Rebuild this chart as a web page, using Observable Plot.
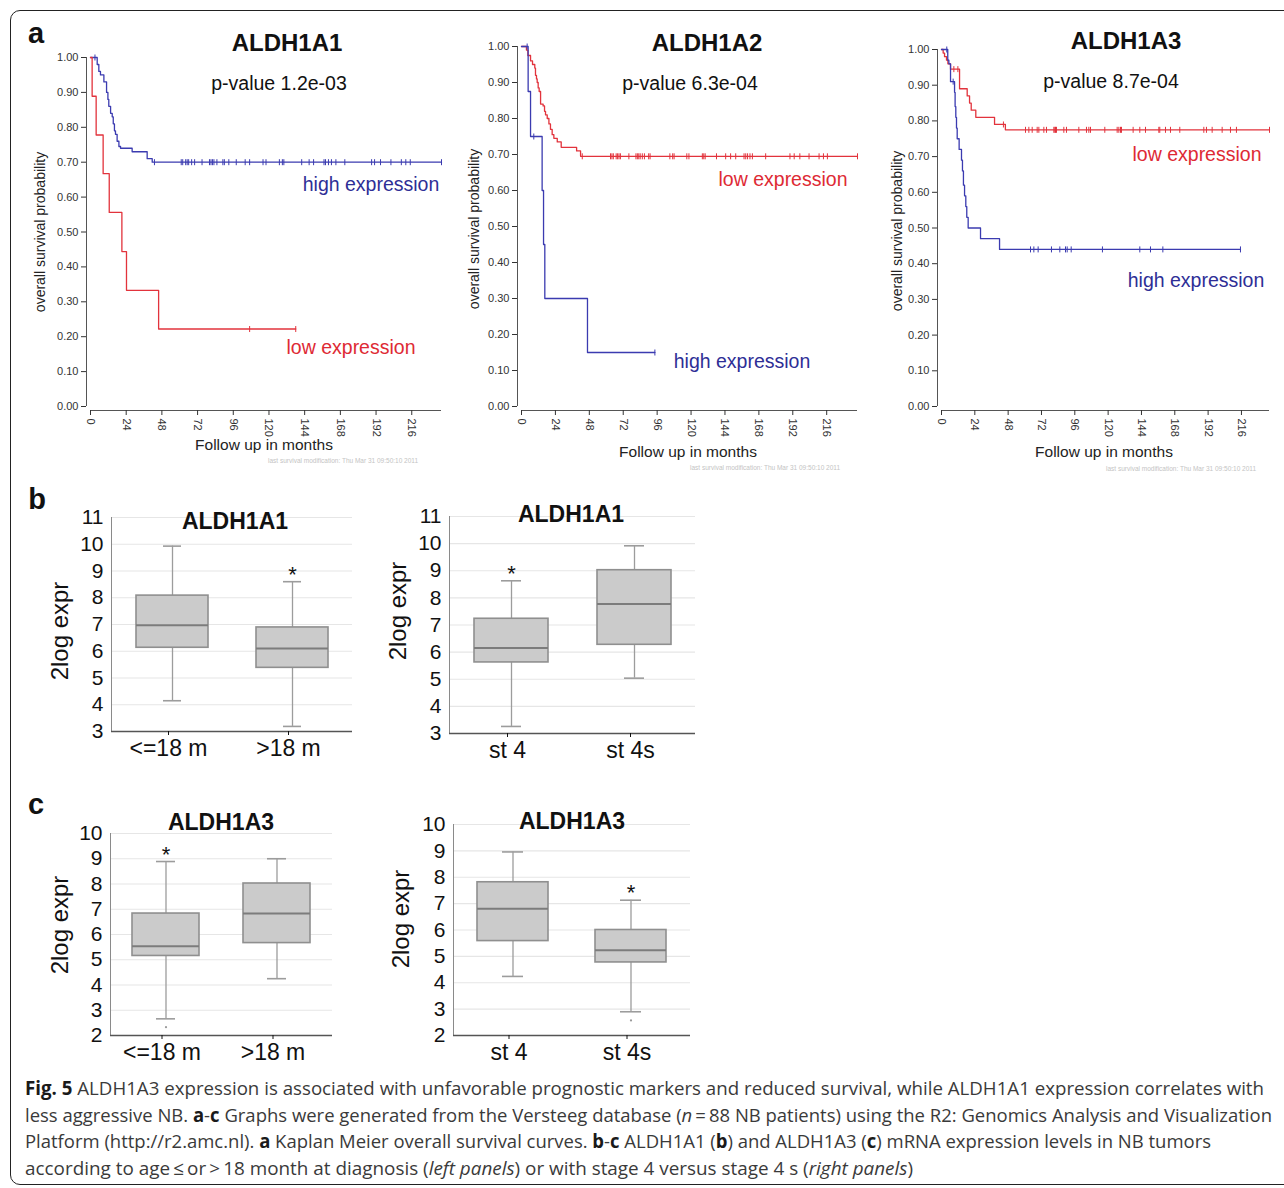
<!DOCTYPE html>
<html>
<head>
<meta charset="utf-8">
<script src="https://cdn.jsdelivr.net/npm/d3@7"></script>
<script src="https://cdn.jsdelivr.net/npm/@observablehq/plot@0.6"></script>
<style>
  html, body { margin: 0; padding: 0; background: #fff; }
  body { width: 1284px; height: 1188px; overflow: hidden; position: relative; font-family: "Liberation Sans", Arial, sans-serif; color: #111; }
  #border { position: absolute; left: 10px; top: 10px; width: 1300px; height: 1175px; border: 1.6px solid #222; border-radius: 10px; box-sizing: border-box; }
  .t { position: absolute; white-space: nowrap; line-height: 1; transform: translate(-50%, -50%); }
  .plotbox { position: absolute; }
  .cap { position: absolute; left: 25px; white-space: nowrap; line-height: 1; font-family: "Open Sans", "Noto Sans", sans-serif; font-size: 19px; color: #3a3a3a; transform-origin: 0 50%; }
  .cap b { color: #1a1a1a; }
  .foot { position: absolute; white-space: nowrap; font-size: 6.5px; color: #c4c4c4; line-height: 1; }
</style>
</head>
<body>
<div id="border"></div>
<script>
// ---------------- DATA ----------------
const kmMonthTicks = [0, 24, 48, 72, 96, 120, 144, 168, 192, 216];
const kmProbTicks = [0, 0.1, 0.2, 0.3, 0.4, 0.5, 0.6, 0.7, 0.8, 0.9, 1.0];

// Panel a, ALDH1A1
const a1HighTime = [0, 4.5, 5.6, 6.7, 9.0, 10.8, 11.7, 12.3, 13.5, 14.6, 15.3, 16.1, 16.8, 17.9, 19.1, 20.2, 28.0, 38.1, 41.5, 236];
const a1HighSurv = [1, 0.98, 0.96, 0.95, 0.93, 0.90, 0.88, 0.86, 0.84, 0.83, 0.81, 0.79, 0.78, 0.76, 0.745, 0.74, 0.73, 0.71, 0.70, 0.70];
const a1HighCensor = [3, 43, 61, 62, 64, 65, 66, 68, 70, 75, 80, 81, 82, 83, 85, 89, 90, 93, 98, 104, 107, 116, 118, 127, 129, 130, 142, 147, 150, 157, 158, 160, 162, 165, 171, 189, 191, 195, 202, 209, 212, 215, 236];
const a1LowTime = [0, 1.1, 3.8, 8.5, 12.6, 21.1, 24.2, 45.8, 138];
const a1LowSurv = [1, 0.889, 0.778, 0.667, 0.556, 0.444, 0.333, 0.222, 0.222];
const a1LowCensor = [107, 138];

// Panel a, ALDH1A2
const a2HighTime = [0, 4.7, 6.4, 14.6, 15.6, 16.5, 46.7, 94.4];
const a2HighSurv = [1, 0.875, 0.75, 0.6, 0.45, 0.3, 0.15, 0.15];
const a2HighCensor = [4.0, 8.7, 94.4];
const a2LowTime = [0, 3.5, 4.5, 6.4, 7.8, 9.4, 9.9, 10.6, 11.1, 11.8, 12.5, 13.5, 15.3, 16.3, 17.0, 18.2, 19.4, 20.5, 21.7, 22.9, 25.3, 28.1, 39.0, 41.8, 237.8];
const a2LowSurv = [1, 0.99, 0.975, 0.96, 0.95, 0.94, 0.92, 0.91, 0.90, 0.885, 0.875, 0.84, 0.835, 0.82, 0.81, 0.80, 0.785, 0.77, 0.755, 0.745, 0.735, 0.72, 0.71, 0.695, 0.695];
const a2LowCensor = [43, 63, 64, 65, 67, 68, 69, 70, 76, 81, 82, 83, 84, 85.5, 87, 90, 91, 105, 107, 108, 117, 118.5, 128, 129, 130, 138, 144.5, 148, 151.6, 157.5, 158.7, 160, 161.7, 163.4, 172.8, 190, 193, 197, 203.5, 210.6, 213.7, 216.5, 237.8];

// Panel a, ALDH1A3
const a3LowTime = [0, 1.2, 2.2, 3.6, 4.6, 6.5, 13.0, 18.5, 20.2, 21.4, 24.7, 38.2, 46.0, 236.2];
const a3LowSurv = [1, 0.99, 0.98, 0.97, 0.96, 0.945, 0.89, 0.87, 0.85, 0.83, 0.81, 0.79, 0.775, 0.775];
const a3LowCensor = [8.9, 11.8, 44.6, 60.5, 62.9, 65.3, 68.9, 70.1, 73.7, 75.6, 80.9, 81.6, 82.1, 82.8, 88.1, 90, 98.9, 104.4, 106.1, 107.3, 117.6, 126.5, 127.7, 128.9, 129.6, 138, 142.8, 146.9, 156.5, 157.2, 161.3, 164.9, 171.6, 188.9, 190.8, 194.9, 202.1, 208.1, 212.4, 236.2];
const a3HighTime = [0, 4.5, 5.3, 6.5, 9.4, 9.8, 10.3, 10.8, 11.3, 12.7, 14.4, 15.1, 15.8, 16.6, 17.5, 18.2, 19.2, 28.1, 41.8, 215.3];
const a3HighSurv = [1, 0.97, 0.96, 0.91, 0.88, 0.84, 0.81, 0.78, 0.75, 0.72, 0.69, 0.66, 0.62, 0.59, 0.56, 0.53, 0.50, 0.47, 0.44, 0.44];
const a3HighCensor = [3.8, 8.4, 64.1, 66.5, 69.6, 79.2, 85.2, 89.3, 90.5, 93.4, 115.9, 142.8, 150.5, 159.4, 215.3];

// Panel b, ALDH1A1 box plots
const b1Groups = ["<=18 m", ">18 m"];
const b1Low = [4.15, 3.19];
const b1Q1 = [6.13, 5.38];
const b1Median = [6.97, 6.10];
const b1Q3 = [8.08, 6.89];
const b1High = [9.93, 8.60];
const b1Stars = [">18 m"];

const b2Groups = ["st 4", "st 4s"];
const b2Low = [3.26, 5.04];
const b2Q1 = [5.62, 6.27];
const b2Median = [6.15, 7.77];
const b2Q3 = [7.23, 9.02];
const b2High = [8.63, 9.92];
const b2Stars = ["st 4"];

const bTicks = [3, 4, 5, 6, 7, 8, 9, 10, 11];

// Panel c, ALDH1A3 box plots
const c1Groups = ["<=18 m", ">18 m"];
const c1Low = [2.66, 4.25];
const c1Q1 = [5.15, 5.66];
const c1Median = [5.53, 6.83];
const c1Q3 = [6.83, 8.02];
const c1High = [8.89, 9.00];
const c1Stars = ["<=18 m"];
const c1OutGroups = ["<=18 m"];
const c1OutValues = [2.33];

const c2Groups = ["st 4", "st 4s"];
const c2Low = [4.24, 2.90];
const c2Q1 = [5.58, 4.77];
const c2Median = [6.81, 5.23];
const c2Q3 = [7.81, 6.00];
const c2High = [8.96, 7.13];
const c2Stars = ["st 4s"];
const c2OutGroups = ["st 4s"];
const c2OutValues = [2.57];

const cTicks = [2, 3, 4, 5, 6, 7, 8, 9, 10];

const BLUE = "#3b3bb0";
const RED = "#e2333c";
const BLUE_TXT = "#2e2e96";
const RED_TXT = "#de2a34";

// ---------------- HELPERS ----------------
function stepAt(time, surv, t) {
  let v = surv[0];
  for (let i = 0; i < time.length; i++) if (time[i] <= t) v = surv[i];
  return v;
}
const vTick = {
  draw(ctx, size) {
    const r = Math.sqrt(size / Math.PI);
    ctx.moveTo(0, -r);
    ctx.lineTo(0, r);
  }
};
function place(el, left, top) {
  const wrap = document.createElement("div");
  wrap.className = "plotbox";
  wrap.style.left = left + "px";
  wrap.style.top = top + "px";
  wrap.appendChild(el);
  document.body.appendChild(wrap);
}
function txt(text, x, y, style = {}, rotate = false) {
  const d = document.createElement("div");
  d.className = "t";
  d.textContent = text;
  d.style.left = x + "px";
  d.style.top = y + "px";
  Object.assign(d.style, style);
  if (rotate) d.style.transform = "translate(-50%, -50%) rotate(-90deg)";
  document.body.appendChild(d);
}

function kmPlot(cfg) {
  const marks = [
    Plot.ruleX([0], {y1: 0, y2: 1, dx: -4, stroke: "#555", strokeWidth: 1}),
    Plot.ruleY([0], {x1: 0, x2: cfg.xMax, dy: 4, stroke: "#555", strokeWidth: 1}),
    Plot.axisY(kmProbTicks, {tickFormat: d3.format(".2f"), tickSize: 5, tickPadding: 3, label: null, fontSize: 11}),
    Plot.axisX(kmMonthTicks, {tickRotate: 90, tickSize: 5, tickPadding: 3, label: null, fontSize: 11})
  ];
  for (const c of cfg.curves) {
    const pts = c.time.map((t, i) => ({t, s: c.surv[i]}));
    marks.push(Plot.line(pts, {x: "t", y: "s", curve: "step-after", stroke: c.color, strokeWidth: 1.3}));
    const cens = c.censor.map(t => ({t, s: stepAt(c.time, c.surv, t)}));
    marks.push(Plot.dot(cens, {x: "t", y: "s", symbol: vTick, r: 3, stroke: c.color, fill: "none", strokeWidth: 1}));
  }
  return Plot.plot({
    width: cfg.width, height: cfg.height,
    marginLeft: cfg.mL, marginRight: cfg.mR, marginTop: cfg.mT, marginBottom: cfg.mB,
    x: {domain: [0, cfg.xMax], insetLeft: 4, label: null},
    y: {domain: [0, 1], insetBottom: 4, label: null},
    style: {fontFamily: "'Liberation Sans', Arial, sans-serif", fontSize: "11px", color: "#333", background: "transparent", overflow: "visible"},
    marks
  });
}

function boxPlot(cfg) {
  const rows = cfg.groups.map((g, i) => ({g, low: cfg.low[i], q1: cfg.q1[i], med: cfg.med[i], q3: cfg.q3[i], high: cfg.high[i]}));
  const starRows = rows.filter(r => cfg.stars.includes(r.g));
  const outRows = (cfg.outGroups || []).map((g, i) => ({g, v: cfg.outValues[i]}));
  const W = "#9c9c9c";
  return Plot.plot({
    width: cfg.width, height: cfg.height,
    marginLeft: cfg.mL, marginRight: cfg.mR, marginTop: cfg.mT, marginBottom: cfg.mB,
    x: {domain: cfg.groups, paddingInner: 0.4, paddingOuter: 0.2, label: null},
    y: {domain: [cfg.yTicks[0], cfg.yTicks[cfg.yTicks.length - 1]], label: null},
    style: {fontFamily: "'Liberation Sans', Arial, sans-serif", fontSize: "21px", color: "#111", background: "transparent", overflow: "visible"},
    marks: [
      Plot.ruleY(cfg.yTicks, {stroke: "#e6e6e6", strokeWidth: 1.2}),
      Plot.ruleX(rows, {x: "g", y1: "low", y2: "q1", stroke: W, strokeWidth: 1.3}),
      Plot.ruleX(rows, {x: "g", y1: "q3", y2: "high", stroke: W, strokeWidth: 1.3}),
      Plot.tickY(rows, {x: "g", y: "low", stroke: W, strokeWidth: 1.6, inset: cfg.capInset}),
      Plot.tickY(rows, {x: "g", y: "high", stroke: W, strokeWidth: 1.6, inset: cfg.capInset}),
      Plot.barY(rows, {x: "g", y1: "q1", y2: "q3", fill: "#cbcbcb", stroke: "#8f8f8f", strokeWidth: 1.6}),
      Plot.tickY(rows, {x: "g", y: "med", stroke: "#7c7c7c", strokeWidth: 2}),
      Plot.dot(outRows, {x: "g", y: "v", r: 1.1, fill: "#999", stroke: null}),
      Plot.text(starRows, {x: "g", y: "high", text: () => "*", dy: -7, fontSize: 22, fill: "#111"}),
      Plot.frame({anchor: "left", stroke: "#8a8a8a"}),
      Plot.ruleY([cfg.yTicks[0]], {stroke: "#555", strokeWidth: 1.6}),
      Plot.axisY(cfg.yTicks, {tickSize: 0, tickPadding: 8, fontSize: 21, label: null}),
      Plot.axisX({tickSize: 4, tickPadding: 4, fontSize: 23, label: null, dx: -4})
    ]
  });
}

// ---------------- PANEL a ----------------
place(kmPlot({
  width: 430, height: 430, mL: 66, mR: 9, mT: 27, mB: 50, xMax: 236,
  curves: [
    {time: a1HighTime, surv: a1HighSurv, censor: a1HighCensor, color: BLUE},
    {time: a1LowTime, surv: a1LowSurv, censor: a1LowCensor, color: RED}
  ]
}), 20, 30);
place(kmPlot({
  width: 416, height: 440, mL: 67, mR: 9, mT: 26, mB: 50, xMax: 237.8,
  curves: [
    {time: a2LowTime, surv: a2LowSurv, censor: a2LowCensor, color: RED},
    {time: a2HighTime, surv: a2HighSurv, censor: a2HighCensor, color: BLUE}
  ]
}), 450, 20);
place(kmPlot({
  width: 408, height: 440, mL: 67, mR: 9, mT: 29, mB: 50, xMax: 236.2,
  curves: [
    {time: a3LowTime, surv: a3LowSurv, censor: a3LowCensor, color: RED},
    {time: a3HighTime, surv: a3HighSurv, censor: a3HighCensor, color: BLUE}
  ]
}), 870, 20);

// ---------------- PANEL b / c ----------------
place(boxPlot({width: 342, height: 291, mL: 91, mR: 10, mT: 27, mB: 50, capInset: 27,
  groups: b1Groups, low: b1Low, q1: b1Q1, med: b1Median, q3: b1Q3, high: b1High, stars: b1Stars, yTicks: bTicks}), 20, 490);
place(boxPlot({width: 345, height: 293, mL: 89, mR: 10, mT: 26, mB: 50, capInset: 27,
  groups: b2Groups, low: b2Low, q1: b2Q1, med: b2Median, q3: b2Q3, high: b2High, stars: b2Stars, yTicks: bTicks}), 360, 490);
place(boxPlot({width: 322, height: 275, mL: 90, mR: 10, mT: 33, mB: 40, capInset: 24,
  groups: c1Groups, low: c1Low, q1: c1Q1, med: c1Median, q3: c1Q3, high: c1High, stars: c1Stars,
  outGroups: c1OutGroups, outValues: c1OutValues, yTicks: cTicks}), 20, 800);
place(boxPlot({width: 340, height: 275, mL: 93, mR: 10, mT: 24, mB: 40, capInset: 25,
  groups: c2Groups, low: c2Low, q1: c2Q1, med: c2Median, q3: c2Q3, high: c2High, stars: c2Stars,
  outGroups: c2OutGroups, outValues: c2OutValues, yTicks: cTicks}), 360, 800);

// ---------------- TEXT ----------------
txt("a", 36, 33, {fontWeight: "bold", fontSize: "29px"});
txt("b", 37, 499, {fontWeight: "bold", fontSize: "29px"});
txt("c", 36, 804, {fontWeight: "bold", fontSize: "29px"});

// KM titles and annotations
txt("ALDH1A1", 287, 43, {fontWeight: "bold", fontSize: "24px"});
txt("p-value 1.2e-03", 279, 84, {fontSize: "19.5px"});
txt("high expression", 371, 185, {fontSize: "19.5px", color: BLUE_TXT});
txt("low expression", 351, 348, {fontSize: "19.5px", color: RED_TXT});
txt("Follow up in months", 264, 445, {fontSize: "15.5px", color: "#222"});
txt("overall survival probability", 40, 232, {fontSize: "14px", color: "#222"}, true);

txt("ALDH1A2", 707, 43, {fontWeight: "bold", fontSize: "24px"});
txt("p-value 6.3e-04", 690, 84, {fontSize: "19.5px"});
txt("low expression", 783, 180, {fontSize: "19.5px", color: RED_TXT});
txt("high expression", 742, 362, {fontSize: "19.5px", color: BLUE_TXT});
txt("Follow up in months", 688, 452, {fontSize: "15.5px", color: "#222"});
txt("overall survival probability", 474, 229, {fontSize: "14px", color: "#222"}, true);

txt("ALDH1A3", 1126, 41, {fontWeight: "bold", fontSize: "24px"});
txt("p-value 8.7e-04", 1111, 82, {fontSize: "19.5px"});
txt("low expression", 1197, 155, {fontSize: "19.5px", color: RED_TXT});
txt("high expression", 1196, 281, {fontSize: "19.5px", color: BLUE_TXT});
txt("Follow up in months", 1104, 452, {fontSize: "15.5px", color: "#222"});
txt("overall survival probability", 897, 231, {fontSize: "14px", color: "#222"}, true);

// tiny footers
const footText = "last survival modification: Thu Mar 31 09:50:10 2011";
[[268, 458], [690, 465], [1106, 466]].forEach(([l, t]) => {
  const d = document.createElement("div");
  d.className = "foot"; d.textContent = footText;
  d.style.left = l + "px"; d.style.top = t + "px";
  document.body.appendChild(d);
});

// box plot titles / labels
txt("ALDH1A1", 235, 521, {fontWeight: "bold", fontSize: "23px"});
txt("ALDH1A1", 571, 514, {fontWeight: "bold", fontSize: "23px"});
txt("ALDH1A3", 221, 822, {fontWeight: "bold", fontSize: "23px"});
txt("ALDH1A3", 572, 821, {fontWeight: "bold", fontSize: "23px"});
txt("2log expr", 60, 631, {fontSize: "24px"}, true);
txt("2log expr", 398, 611, {fontSize: "24px"}, true);
txt("2log expr", 60, 925, {fontSize: "24px"}, true);
txt("2log expr", 401, 919, {fontSize: "24px"}, true);

// ---------------- CAPTION ----------------
const capLines = [
  {html: "<b>Fig. 5</b> ALDH1A3 expression is associated with unfavorable prognostic markers and reduced survival, while ALDH1A1 expression correlates with", y: 1089, w: 1239},
  {html: "less aggressive NB. <b>a</b>-<b>c</b> Graphs were generated from the Versteeg database (<i>n</i>&thinsp;=&thinsp;88 NB patients) using the R2: Genomics Analysis and Visualization", y: 1116, w: 1247},
  {html: "Platform (http://r2.amc.nl). <b>a</b> Kaplan Meier overall survival curves. <b>b</b>-<b>c</b> ALDH1A1 (<b>b</b>) and ALDH1A3 (<b>c</b>) mRNA expression levels in NB tumors", y: 1142, w: 1186},
  {html: "according to age&thinsp;&le;&thinsp;or&thinsp;&gt;&thinsp;18 month at diagnosis (<i>left panels</i>) or with stage 4 versus stage 4 s (<i>right panels</i>)", y: 1169, w: 888}
];
capLines.forEach(L => {
  const d = document.createElement("div");
  d.className = "cap";
  d.innerHTML = L.html;
  d.style.top = (L.y - 10) + "px";
  document.body.appendChild(d);
  const wNow = d.getBoundingClientRect().width;
  d.style.transform = "scaleX(" + (L.w / wNow) + ")";
});
</script>
</body>
</html>
